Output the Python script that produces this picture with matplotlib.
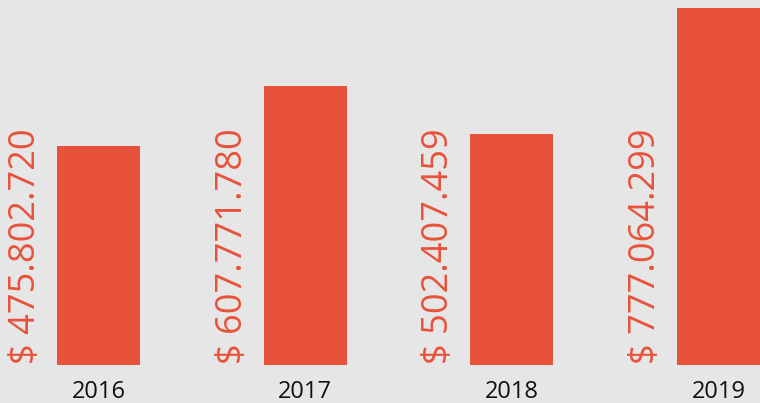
import matplotlib.pyplot as plt

years = ["2016", "2017", "2018", "2019"]
values = [475802720, 607771780, 502407459, 777064299]
labels = ["$ 475.802.720", "$ 607.771.780", "$ 502.407.459", "$ 777.064.299"]

bar_color = "#e9523a"
bg_color = "#e6e6e6"


def main():
    fig = plt.figure(figsize=(7.6, 4.03), dpi=100, facecolor=bg_color)
    ax = fig.add_axes([0, 38 / 403, 1, 1 - 38 / 403])
    ax.set_facecolor(bg_color)

    x = list(range(len(years)))
    millions = [v / 1e6 for v in values]
    ax.bar(x, millions, width=0.4016, color=bar_color)

    for i, lab in enumerate(labels):
        ax.text(i - 0.35, 3, lab, rotation=90, ha="center", va="bottom",
                color=bar_color, fontsize=26, family="Open Sans")

    ax.set_xlim(-0.4766, 3.2008)
    ax.set_ylim(0, 794.5)
    ax.set_xticks(x)
    ax.set_xticklabels(years, fontsize=17, family="Open Sans", color="#111111")
    ax.tick_params(axis="x", length=0, pad=11)
    ax.set_yticks([])
    for s in ax.spines.values():
        s.set_visible(False)

    fig.savefig("out.png", dpi=100, facecolor=bg_color)


if __name__ == "__main__":
    main()
